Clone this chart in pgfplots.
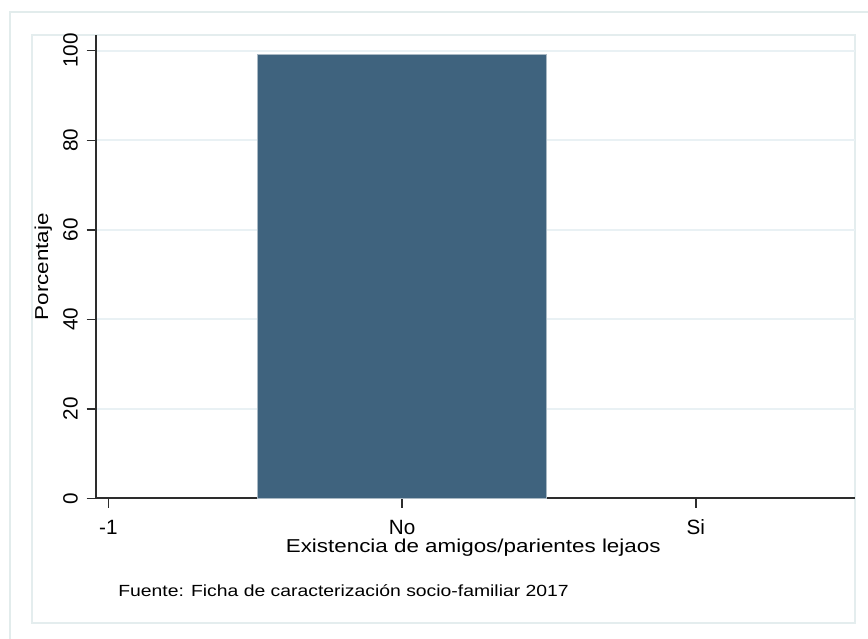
\documentclass[border=0pt]{standalone}
\usepackage{fontspec}
\setmainfont{Liberation Sans}[FakeStretch=1.2]
\newfontfamily\tickfam{Liberation Sans}
\usepackage{pgfplots}
\pgfplotsset{compat=1.18}
\definecolor{barcol}{RGB}{63,99,126}
\definecolor{barline}{RGB}{170,185,196}
\definecolor{gridcol}{RGB}{233,241,244}
\definecolor{framecol}{RGB}{228,237,238}
\definecolor{outercol}{RGB}{226,236,236}
\definecolor{axcol}{RGB}{45,45,45}
\begin{document}
\begin{tikzpicture}
\useasboundingbox (0,0) rectangle (651pt,479.25pt);
% outer graph region frame
\draw[outercol, line width=2.2pt] (7.5pt,-20pt) -- (7.5pt,470.25pt) -- (680pt,470.25pt);
% inner plot region frame
\draw[framecol, line width=1.4pt] (24pt,12pt) rectangle (641.25pt,453pt);
\begin{axis}[
  at={(72pt,105.375pt)}, anchor=south west,
  scale only axis, width=569.25pt, height=347.625pt,
  xmin=-1.042, xmax=1.542, ymin=0, ymax=103.5,
  axis x line*=bottom, axis y line*=left,
  axis line style={-, draw=axcol, line width=1.5pt},
  x axis line style={-}, y axis line style={-},
  xtick={-1,0,1}, xticklabels={-1,No,Si},
  ytick={0,20,40,60,80,100},
  tick align=outside, major tick length=7pt,
  tick style={draw=axcol, line width=1.1pt},
  ymajorgrids, grid style={draw=gridcol, line width=1.4pt},
  /pgf/number format/assume math mode=true,
  tick label style={font=\tickfam\fontsize{15.5pt}{17pt}\selectfont, text=black},
  yticklabel style={rotate=90, anchor=south, inner sep=0pt},
  yticklabel shift=6.5pt,
  xticklabel style={anchor=base, inner sep=0pt},
  xticklabel shift=20.25pt,
  xlabel={Existencia de amigos/parientes lejaos},
  ylabel={Porcentaje},
  label style={font=\fontsize{14pt}{16pt}\selectfont, text=black},
  xlabel style={at={(axis description cs:0.497,-0.117)}, anchor=base, inner sep=0pt},
  ylabel style={at={(axis description cs:-0.0632,0.5)}, anchor=base, inner sep=0pt},
  clip=false,
]
\addplot[ybar, bar width=0.985, fill=barcol, draw=barline, line width=0.6pt]
  coordinates {(0,99.2)};
\end{axis}
\node[anchor=base west, inner sep=0pt, font=\fontsize{12.1pt}{14pt}\selectfont] at (88.5pt,31.5pt)
  {Fuente: Ficha de caracterización socio-familiar 2017};
\end{tikzpicture}
\end{document}
